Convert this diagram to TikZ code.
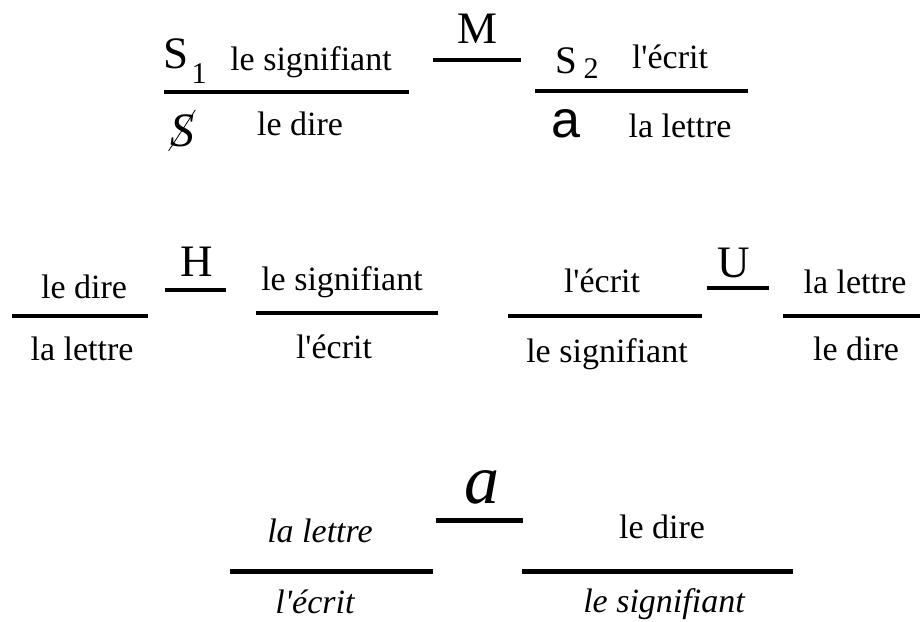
\documentclass[tikz,border=0pt]{standalone}
\usepackage{fontspec}
\setmainfont{Liberation Serif}
\newfontfamily\sansfam{Liberation Sans}
\newcommand\lecrit{l\textquotesingle écrit}
\begin{document}
\begin{tikzpicture}[
  x=0.5pt, y=-0.5pt,
  every node/.style={inner sep=0pt, anchor=base},
  txt/.style={font=\fontsize{17}{20}\selectfont},
  itxt/.style={font=\fontsize{17}{20}\selectfont\itshape},
  sym/.style={font=\fontsize{22.5}{26}\selectfont},
  idx/.style={font=\fontsize{15}{18}\selectfont},
  bar/.style={draw, line width=2pt},
  thickbar/.style={draw, line width=2.5pt}
]
\useasboundingbox (0,0) rectangle (920,621);
% M
\node[sym] (s1) at (176,68) {S};
\node[idx] (one) at (199,83) {1};
\node[txt] (sig1) at (311,70) {le signifiant};
\node[sym, font=\fontsize{24}{28}\selectfont\itshape] (sbar) at (182,146) {S};
\draw (sbar.south west) ++(-1,4) -- ([shift={(1,-4)}]sbar.north east);
\node[txt] (dire1) at (300,135) {le dire};
\path[bar] (164,92) -- (409,92);
\node[sym] (m) at (477,43) {M};
\path[bar] (433,60) -- (521,60);
\node[font=\fontsize{19.5}{22}\selectfont] (s2) at (566,73) {S};
\node[idx] (two) at (591,78) {2};
\node[txt] (ecr1) at (670,68) {\lecrit};
\path[bar] (535,91) -- (748,91);
\node[font=\sansfam\fontsize{26}{30}\selectfont] (a1) at (566,137) {a};
\node[txt] (let1) at (680,137) {la lettre};
% H
\node[txt] (dire2) at (84,298) {le dire};
\path[bar] (12,316) -- (148,316);
\node[txt] (let2) at (82,360) {la lettre};
\node[sym] (h) at (197,276) {H};
\path[bar] (165,290) -- (226,290);
\node[txt] (sig2) at (342,290) {le signifiant};
\path[bar] (256,313) -- (438,313);
\node[txt] (ecr2) at (334,358) {\lecrit};
% U
\node[txt] (ecr3) at (602,292) {\lecrit};
\path[bar] (508,316) -- (702,316);
\node[txt] (sig3) at (607,362) {le signifiant};
\node[sym] (u) at (734,277) {U};
\path[bar] (707,288) -- (769,288);
\node[txt] (let3) at (855,293) {la lettre};
\path[bar] (783,316) -- (920,316);
\node[txt] (dire3) at (856,360) {le dire};
% a
\node[font=\fontsize{35}{40}\selectfont\itshape] (a2) at (482,503) {a};
\path[thickbar] (436,520) -- (523,520);
\node[itxt] (let4) at (320,542) {la lettre};
\path[thickbar] (230,571) -- (433,571);
\node[itxt] (ecr4) at (315,613) {\lecrit};
\node[txt] (dire4) at (662,538) {le dire};
\path[thickbar] (522,571) -- (793,571);
\node[itxt] (sig4) at (664,612) {le signifiant};
\end{tikzpicture}
\end{document}
